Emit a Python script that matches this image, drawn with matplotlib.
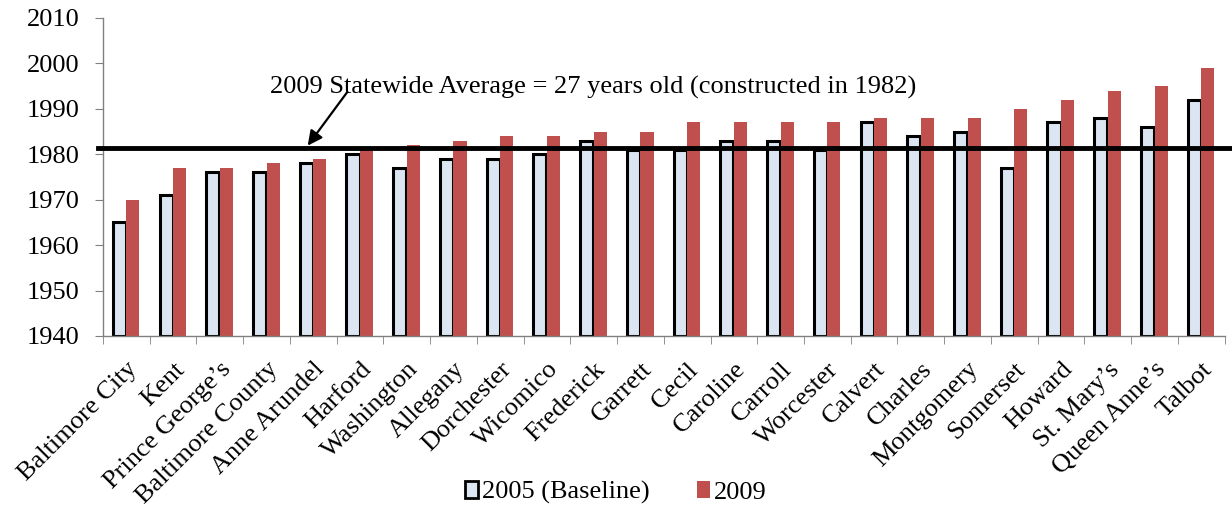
import numpy as np
import matplotlib.pyplot as plt
from matplotlib.patches import Patch

plt.rcParams['font.family'] = ['Liberation Serif', 'DejaVu Serif']

counties = ["Baltimore City", "Kent", "Prince George\u2019s", "Baltimore County",
            "Anne Arundel", "Harford", "Washington", "Allegany", "Dorchester",
            "Wicomico", "Frederick", "Garrett", "Cecil", "Caroline", "Carroll",
            "Worcester", "Calvert", "Charles", "Montgomery", "Somerset", "Howard",
            "St. Mary\u2019s", "Queen Anne\u2019s", "Talbot"]

y2005 = [1965, 1971, 1976, 1976, 1978, 1980, 1977, 1979, 1979, 1980, 1983, 1981,
         1981, 1983, 1983, 1981, 1987, 1984, 1985, 1977, 1987, 1988, 1986, 1992]
y2009 = [1970, 1977, 1977, 1978, 1979, 1981, 1982, 1983, 1984, 1984, 1985, 1985,
         1987, 1987, 1987, 1987, 1988, 1988, 1988, 1990, 1992, 1994, 1995, 1999]
statewide_avg = 1981.4
base = 1940

x = np.arange(len(counties))
fig = plt.figure(figsize=(12.32, 5.08), dpi=100)
ax = fig.add_axes([0.0836, 0.3386, 0.9104, 0.626])

w = 0.28
ax.bar(x - 0.15, np.array(y2005) - base, w, bottom=base, color='#DCE6F2',
       edgecolor='black', linewidth=2.2, zorder=2)
ax.bar(x + 0.14, np.array(y2009) - base, w, bottom=base, color='#C0504D', zorder=2)

ax.plot([-0.6, len(counties) + 0.2], [statewide_avg, statewide_avg], color='black',
        linewidth=3.5, clip_on=False, zorder=3)

ax.text(3.07, 1993.4, "2009 Statewide Average = 27 years old (constructed in 1982)",
        fontsize=19, ha='left', va='baseline')
ax.annotate("", xy=(3.88, statewide_avg + 0.5), xytext=(4.72, 1993.6),
            arrowprops=dict(arrowstyle='-|>', color='black', lw=1.6,
                            mutation_scale=22, shrinkA=0, shrinkB=0))

ax.set_xlim(-0.5, len(counties) - 0.5)
ax.set_ylim(1940, 2010)
ax.set_yticks(np.arange(1940, 2011, 10))
ax.tick_params(axis='y', labelsize=19, length=6, color='#808080', direction='out',
               pad=11)
ax.set_xticks(x)
ax.set_xticklabels(counties, rotation=45, ha='right', rotation_mode='anchor',
                   fontsize=19)
ax.tick_params(axis='x', length=0, pad=16)
ax.set_xticks(np.arange(-0.5, len(counties), 1), minor=True)
ax.tick_params(axis='x', which='minor', length=6, color='#808080')

for s in ['top', 'right']:
    ax.spines[s].set_visible(False)
for s in ['left', 'bottom']:
    ax.spines[s].set_color('#808080')
    ax.spines[s].set_linewidth(1.0)

handles = [Patch(facecolor='#DCE6F2', edgecolor='black', linewidth=2.0,
                 label='2005 (Baseline)'),
           Patch(facecolor='#C0504D', label='2009')]
fig.legend(handles=handles, loc='center', bbox_to_anchor=(0.5, 0.03), ncol=2,
           frameon=False, fontsize=19, handlelength=0.5, handleheight=0.6,
           handletextpad=0.15, columnspacing=1.8)

fig.savefig('out.png', dpi=100)
